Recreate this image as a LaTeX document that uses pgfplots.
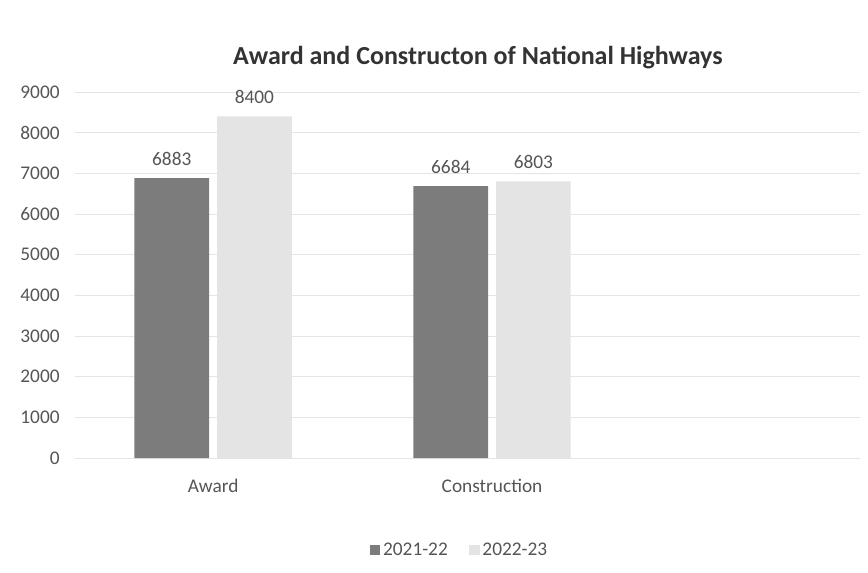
\documentclass[border=0pt]{standalone}
\usepackage{fontspec}
\setmainfont{Carlito}
\usepackage{pgfplots}
\pgfplotsset{compat=1.18}
\definecolor{darkbar}{HTML}{7C7C7C}
\definecolor{lightbar}{HTML}{E4E4E4}
\definecolor{txt}{HTML}{555555}
\begin{document}
\begin{tikzpicture}
\begin{axis}[
  at={(0,0)}, anchor=south west,
  scale only axis,
  width=589pt, height=274.5pt,
  ybar=6pt, bar width=56pt,
  xmin=-0.495, xmax=2.32,
  ymin=0, ymax=9000,
  ytick={0,1000,...,9000},
  xtick={0,1}, xticklabels={Award,Construction},
  axis line style={draw=none},
  major tick length=0pt,
  ymajorgrids, grid style={draw=black!10, line width=0.5pt},
  /pgf/number format/assume math mode=true,
  /pgf/number format/1000 sep={},
  ticklabel style={font=\fontsize{14.5}{16}\selectfont, text=txt},
  yticklabel style={xshift=-8pt},
  xticklabel style={yshift=-12pt},
  nodes near coords,
  nodes near coords style={font=\fontsize{14.5}{16}\selectfont, text=txt, /pgf/number format/1000 sep={}, yshift=6pt},
  title={\textbf{Award and Constructon of National Highways}},
  title style={at={(0.513,1)}, anchor=south, yshift=8pt, font=\fontsize{19.5}{22}\selectfont, text=black!80},
  legend style={at={(0.49,-0.251)}, anchor=center, draw=none, legend columns=2,
    font=\fontsize{14.5}{16}\selectfont, text=txt,
    /tikz/every even column/.append style={column sep=14pt}},
  legend image code/.code={\fill[#1] (0pt,-4pt) rectangle (8pt,4pt);},
]
\addplot[fill=darkbar, draw=none] coordinates {(0,6883) (1,6684)};
\addplot[fill=lightbar, draw=none] coordinates {(0,8400) (1,6803)};
\legend{2021-22,2022-23}
\end{axis}
\pgfresetboundingbox
\path[use as bounding box] (-56.25pt,-85.5pt) rectangle (594.75pt,343.5pt);
\end{tikzpicture}
\end{document}
